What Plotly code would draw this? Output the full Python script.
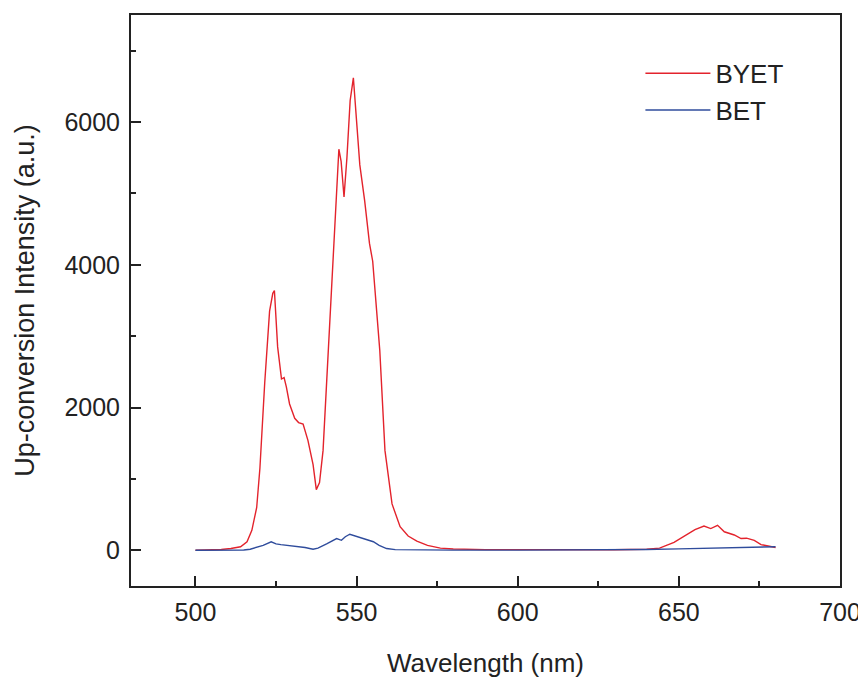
import plotly.graph_objects as go

# Wavelength (nm) and intensities
wl_byet = [500, 505, 508, 511, 514, 516, 517.5, 519, 520, 521.5, 523, 524, 524.5, 525.5, 526.7, 527.5,
           528.2, 529.2, 530.8, 532, 533.4, 534.9, 536.5, 537.5, 538.5, 539.6, 541.2, 542.7, 544, 544.5,
           545.2, 546.1, 547, 548, 549, 550, 551, 552.5, 554, 555, 556, 557.2, 558.8, 560, 561, 563.5,
           566, 568.7, 572, 576, 580, 590, 600, 610, 620, 630, 640, 644, 648.5, 652.7, 655, 657.8,
           659.9, 662, 664.1, 667.2, 669.3, 671, 673.4, 675.5, 678, 680]
int_byet = [0, 5, 12, 25, 50, 120, 280, 600, 1150, 2350, 3350, 3600, 3640, 2850, 2400, 2420,
            2290, 2050, 1850, 1790, 1770, 1540, 1200, 850, 950, 1400, 2800, 4200, 5300, 5620,
            5450, 4950, 5500, 6300, 6620, 6000, 5400, 4900, 4300, 4050, 3500, 2800, 1400, 950, 650, 330,
            200, 130, 70, 30, 18, 10, 8, 6, 6, 8, 15, 30, 110, 230, 290, 340,
            305, 350, 260, 215, 165, 170, 140, 80, 55, 40]

wl_bet = [500, 510, 515, 517, 519, 521, 523.5, 525, 526.5, 528.2, 530, 532, 534, 536.5, 538, 540.7,
          542, 543.8, 545.3, 546.5, 547.9, 549, 550.5, 552.1, 553.5, 555.2, 557, 559.3, 562, 570,
          580, 600, 620, 640, 650, 660, 670, 675, 680]
int_bet = [0, 0, 5, 15, 40, 70, 120, 90, 80, 70, 60, 55, 40, 15, 30, 90,
           120, 165, 140, 190, 225, 210, 185, 165, 145, 120, 70, 25, 10, 5,
           3, 3, 5, 12, 20, 30, 40, 45, 50]

x_ticks = [500, 550, 600, 650, 700]
y_ticks = [0, 2000, 4000, 6000]

FONT = "Liberation Sans, Arial, sans-serif"

fig = go.Figure()
fig.add_trace(go.Scatter(x=wl_byet, y=int_byet, mode="lines", name="BYET",
                         line=dict(color="#e3232c", width=1.4)))
fig.add_trace(go.Scatter(x=wl_bet, y=int_bet, mode="lines", name="BET",
                         line=dict(color="#2f4c9c", width=1.4)))

axis_common = dict(showline=True, linecolor="#222", linewidth=2, mirror=True,
                   showgrid=False, zeroline=False, ticks="inside", tickcolor="#222",
                   tickwidth=1.5, ticklen=10, automargin=False,
                   tickfont=dict(size=25, color="#222", family=FONT))

fig.update_xaxes(range=[480, 700], tickvals=x_ticks, ticklabelstandoff=3,
                 title=dict(text="Wavelength (nm)", font=dict(size=26, color="#222", family=FONT), standoff=32),
                 minor=dict(dtick=25, ticks="inside", ticklen=5, tickcolor="#222", tickwidth=1.5),
                 **axis_common)
fig.update_yaxes(range=[-500, 7500], tickvals=y_ticks, ticklabelstandoff=4,
                 title=dict(text="Up-conversion Intensity (a.u.)", font=dict(size=27, color="#222", family=FONT), standoff=22),
                 minor=dict(dtick=1000, tick0=0, ticks="inside", ticklen=5, tickcolor="#222", tickwidth=1.5),
                 **axis_common)

# page body has an 8px margin: figure sized/offset to land the plot box where the reference has it
fig.update_layout(
    width=858, height=670,
    margin=dict(l=123, r=26, t=7, b=92),
    paper_bgcolor="white", plot_bgcolor="white",
    font=dict(family=FONT, color="#222"),
    legend=dict(x=0.7185, y=0.939, xanchor="left", yanchor="top",
                font=dict(size=26, color="#222", family=FONT),
                bgcolor="rgba(0,0,0,0)", itemwidth=65, tracegroupgap=0),
)

fig.write_html("out.html")
